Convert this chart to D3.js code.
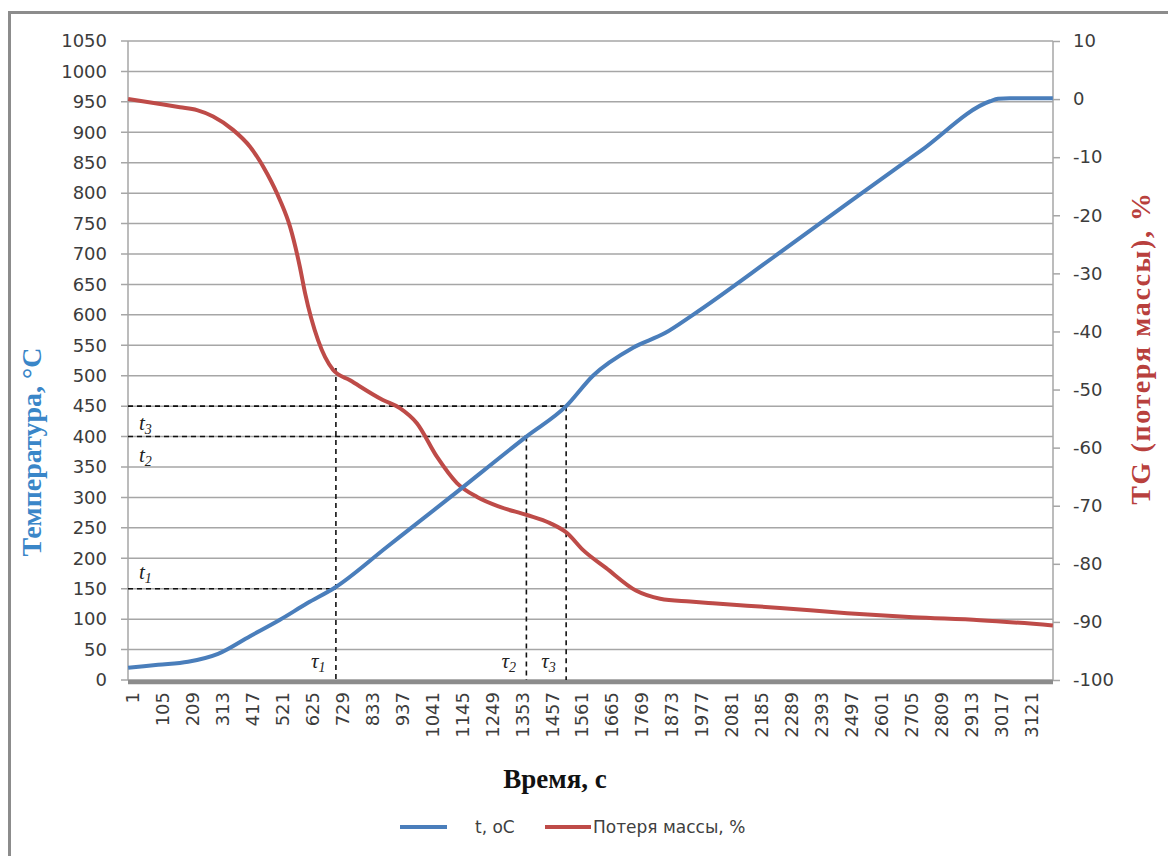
<!DOCTYPE html>
<html>
<head>
<meta charset="utf-8">
<script src="https://cdn.jsdelivr.net/npm/d3@7"></script>
<style>
body { margin: 0; background: #fff; }
</style>
</head>
<body>
<script>
// time axis labels (category numbers, every 104 s)
var timeTicks = [1, 105, 209, 313, 417, 521, 625, 729, 833, 937, 1041, 1145, 1249, 1353, 1457,
    1561, 1665, 1769, 1873, 1977, 2081, 2185, 2289, 2393, 2497, 2601, 2705, 2809, 2913, 3017, 3121];
var tempTicks = [0, 50, 100, 150, 200, 250, 300, 350, 400, 450, 500, 550, 600, 650, 700, 750,
    800, 850, 900, 950, 1000, 1050];
var massTicks = [-100, -90, -80, -70, -60, -50, -40, -30, -20, -10, 0, 10];

// temperature, oC
var tempTime  = [1, 105, 209, 313, 424, 528, 622, 719, 900, 1118, 1383, 1521, 1614, 1753, 1864,
    1961, 2250, 2506, 2750, 2992, 3020, 3060, 3210];
var tempValue = [20, 25, 30, 43, 72, 99, 126, 152, 219, 300, 400, 450, 500, 546, 570,
    600, 698, 786, 869, 951, 955, 956, 956];

// mass loss, %
var massTime  = [1, 112, 181, 240, 296, 365, 424, 483, 528, 563, 597, 615, 660, 712, 771, 885,
    944, 1003, 1073, 1142, 1212, 1291, 1385, 1465, 1524, 1579, 1659, 1763, 1847, 1951, 2030,
    2263, 2496, 2725, 2957, 3210];
var massValue = [0, -0.85, -1.4, -1.9, -3.0, -5.3, -8.2, -12.8, -17.4, -22, -28.9, -33.4, -41.5,
    -46.6, -48.4, -51.8, -53.2, -55.8, -61.6, -66.1, -68.5, -70.2, -71.6, -73.0, -74.7, -77.6,
    -80.7, -84.6, -86.0, -86.5, -86.8, -87.6, -88.5, -89.2, -89.7, -90.6];

// marked points: tau (time) and t (temperature)
var tauTimes = [722, 1383, 1521];
var tLevels = [150, 400, 450];
var tauTop = [-46.3, 400, 450];   // where each vertical starts (tau1 on mass curve)
var tLabels = ["1", "2", "3"];

var svg = d3.select("body")
    .append("svg")
    .attr("width", 1168)
    .attr("height", 856)
    .style("display", "block");

var plotLeft = 128, plotRight = 1053, plotTop = 41, plotBottom = 680;

var x = d3.scaleLinear().domain([0.5, 3210.5]).range([plotLeft, plotRight]);
var yL = d3.scaleLinear().domain([0, 1050]).range([plotBottom, plotTop]);
var yR = d3.scaleLinear().domain([-100, 10]).range([plotBottom, plotTop]);

var plain = function(d) { return String(d); };

// outer frame
svg.append("path")
    .attr("d", "M9.5,860V12.5H1175")
    .attr("fill", "none")
    .attr("stroke", "#8c8c8c")
    .attr("stroke-width", 3);

// grid
svg.append("g").selectAll("line")
    .data(tempTicks)
    .enter().append("line")
    .attr("x1", plotLeft - 7)
    .attr("x2", plotRight)
    .attr("y1", function(d) { return yL(d); })
    .attr("y2", function(d) { return yL(d); })
    .attr("stroke", "#a6a6a6")
    .attr("stroke-width", 1.5);

// left axis
var axL = svg.append("g")
    .attr("transform", "translate(" + plotLeft + ",0)")
    .call(d3.axisLeft(yL).tickValues(tempTicks).tickFormat(plain).tickSize(0).tickPadding(21));
axL.select(".domain").remove();
axL.selectAll("text")
    .style("font-family", "DejaVu Sans")
    .style("font-size", "18px")
    .attr("fill", "#3c3c3c");

// right axis
var axR = svg.append("g")
    .attr("transform", "translate(" + plotRight + ",0)")
    .call(d3.axisRight(yR).tickValues(massTicks).tickFormat(plain).tickSize(7).tickPadding(13));
axR.select(".domain").remove();
axR.selectAll("line").attr("stroke", "#a6a6a6").attr("stroke-width", 1.5);
axR.selectAll("text")
    .style("font-family", "DejaVu Sans")
    .style("font-size", "18px")
    .attr("fill", "#3c3c3c");

svg.append("line")
    .attr("x1", plotLeft).attr("x2", plotLeft)
    .attr("y1", plotTop).attr("y2", plotBottom)
    .attr("stroke", "#a6a6a6").attr("stroke-width", 1.5);
svg.append("line")
    .attr("x1", plotRight).attr("x2", plotRight)
    .attr("y1", plotTop).attr("y2", plotBottom)
    .attr("stroke", "#a6a6a6").attr("stroke-width", 1.5);

// bottom axis
var axB = svg.append("g")
    .attr("transform", "translate(0," + plotBottom + ")")
    .call(d3.axisBottom(x).tickValues(timeTicks).tickFormat(plain).tickSize(0));
axB.select(".domain").remove();
axB.selectAll("text")
    .attr("transform", "rotate(-90)")
    .attr("x", -12)
    .attr("y", 4)
    .attr("dy", "0.35em")
    .attr("text-anchor", "end")
    .style("font-family", "DejaVu Sans")
    .style("font-size", "18px")
    .attr("fill", "#3c3c3c");
svg.append("line")
    .attr("x1", plotLeft).attr("x2", plotRight)
    .attr("y1", plotBottom + 2).attr("y2", plotBottom + 2)
    .attr("stroke", "#8c8c8c").attr("stroke-width", 4.5);

// dashed guide lines
var guides = svg.append("g")
    .attr("stroke", "#111")
    .attr("stroke-width", 1.6)
    .attr("stroke-dasharray", "5,4")
    .attr("fill", "none");
tauTimes.forEach(function(t, i) {
    guides.append("line")
        .attr("x1", plotLeft).attr("x2", x(t))
        .attr("y1", yL(tLevels[i])).attr("y2", yL(tLevels[i]));
    guides.append("line")
        .attr("x1", x(t)).attr("x2", x(t))
        .attr("y1", i == 0 ? yR(tauTop[i]) : yL(tauTop[i]))
        .attr("y2", plotBottom);
});

// curves
var tempData = tempTime.map(function(t, i) { return [t, tempValue[i]]; });
var massData = massTime.map(function(t, i) { return [t, massValue[i]]; });

svg.append("path")
    .datum(massData)
    .attr("fill", "none")
    .attr("stroke", "#be4b48")
    .attr("stroke-width", 4)
    .attr("stroke-linejoin", "round")
    .attr("d", d3.line()
        .x(function(d) { return x(d[0]); })
        .y(function(d) { return yR(d[1]); })
        .curve(d3.curveMonotoneX));

svg.append("path")
    .datum(tempData)
    .attr("fill", "none")
    .attr("stroke", "#4a7ebb")
    .attr("stroke-width", 4)
    .attr("stroke-linejoin", "round")
    .attr("d", d3.line()
        .x(function(d) { return x(d[0]); })
        .y(function(d) { return yL(d[1]); })
        .curve(d3.curveMonotoneX));

// t / tau labels
var tDy = [-10, 25, 24];
tLevels.forEach(function(v, i) {
    var lab = svg.append("text")
        .attr("x", plotLeft + 11)
        .attr("y", yL(v) + tDy[i])
        .style("font-family", "Liberation Serif")
        .style("font-style", "italic")
        .style("font-size", "21px")
        .attr("fill", "#222");
    lab.append("tspan").text("t");
    lab.append("tspan").attr("dy", 4).style("font-size", "14px").text(tLabels[i]);
});
tauTimes.forEach(function(t, i) {
    var lab = svg.append("text")
        .attr("x", x(t) - 25)
        .attr("y", plotBottom - 12)
        .style("font-family", "Liberation Serif")
        .style("font-style", "italic")
        .style("font-size", "21px")
        .attr("fill", "#222");
    lab.append("tspan").text("τ");
    lab.append("tspan").attr("dy", 4).style("font-size", "14px").text(tLabels[i]);
});

// axis titles
svg.append("text")
    .attr("transform", "translate(41,452) rotate(-90)")
    .attr("text-anchor", "middle")
    .style("font-family", "Liberation Serif")
    .style("font-weight", "bold")
    .style("font-size", "28px")
    .attr("fill", "#3a86c8")
    .text("Температура, °С");

svg.append("text")
    .attr("transform", "translate(1150,348) rotate(-90)")
    .attr("text-anchor", "middle")
    .style("font-family", "Liberation Serif")
    .style("font-weight", "bold")
    .style("font-size", "28px")
    .style("letter-spacing", "1.6px")
    .attr("fill", "#b8403d")
    .text("TG (потеря массы), %");

svg.append("text")
    .attr("x", 555)
    .attr("y", 788)
    .attr("text-anchor", "middle")
    .style("font-family", "Liberation Serif")
    .style("font-weight", "bold")
    .style("font-size", "27px")
    .attr("fill", "#111")
    .text("Время, с");

// legend
var legend = [
    {name: "t, oC", color: "#4a7ebb", x0: 400, x1: 447, tx: 475},
    {name: "Потеря массы, %", color: "#be4b48", x0: 545, x1: 591, tx: 593}
];
legend.forEach(function(d) {
    svg.append("line")
        .attr("x1", d.x0).attr("x2", d.x1)
        .attr("y1", 827).attr("y2", 827)
        .attr("stroke", d.color).attr("stroke-width", 4);
    svg.append("text")
        .attr("x", d.tx).attr("y", 833)
        .style("font-family", "DejaVu Sans")
        .style("font-size", "17px")
        .attr("fill", "#404040")
        .text(d.name);
});
</script>
</body>
</html>
